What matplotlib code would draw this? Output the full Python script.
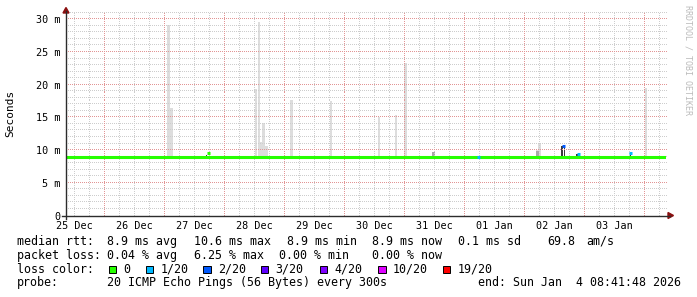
import numpy as np
import matplotlib.pyplot as plt
from matplotlib.lines import Line2D
from matplotlib.patches import Polygon, Rectangle

# time axis in days since 25 Dec 2025 00:00
t_start = 8.697 / 24          # 25 Dec 08:41:48
t_end = 10 + t_start          # 04 Jan 08:41:48
day_labels = ["25 Dec", "26 Dec", "27 Dec", "28 Dec", "29 Dec",
              "30 Dec", "31 Dec", "01 Jan", "02 Jan", "03 Jan"]
median_base = 8.9             # ms

# light smoke (ping spread) spikes: time, top in ms
smoke_t = [2.07, 2.117, 3.53, 3.575, 3.617, 3.658, 3.70, 4.117, 4.78,
           5.58, 5.86, 6.02, 8.215, 8.25, 10.025]
smoke_top = [29.1, 16.4, 19.3, 29.6, 11.3, 14.1, 10.6, 17.7, 17.5,
             15.1, 15.4, 23.3, 10.0, 10.9, 19.5]

# medium smoke
mid_t = [6.49, 8.22]
mid_top = [9.7, 9.9]

# dark smoke
dark_t = [2.708, 8.633, 8.667, 8.883, 9.77]
dark_top = [9.3, 10.6, 10.6, 9.35, 9.55]

# median excursions: time, median ms, loss index
med_t = [2.745, 7.24, 8.65, 8.90, 9.775]
med_val = [9.5, 8.9, 10.6, 9.35, 9.55]
med_loss = [0, 1, 2, 1, 1]

loss_labels = ["0", "1/20", "2/20", "3/20", "4/20", "10/20", "19/20"]
loss_colors = ["#26ff00", "#00b8ff", "#0059ff", "#5e00ff", "#7e00ff", "#dd00ff", "#ff0000"]

y_ticks = [0, 5, 10, 15, 20, 25, 30]
y_labels = ["0", "5 m", "10 m", "15 m", "20 m", "25 m", "30 m"]

W, H = 697, 297
mono = "DejaVu Sans Mono"


def fx(x):
    return x / W


def fy(y):
    return 1 - y / H


fig = plt.figure(figsize=(W / 100, H / 100), dpi=100)
ax = fig.add_axes([fx(66), fy(215.5), 600 / W, 202.7 / H])
ax.set_xlim(t_start, t_end)
ax.set_ylim(0, 31)
for s in ax.spines.values():
    s.set_visible(False)

minor_c = "#cdcdcd"
major_c = "#e29595"

# dotted grid, one pixel on / one off, drawn over the smoke
dx = 2 * (t_end - t_start) / 600
dy = 2 * 31 / 202.7
xs_dots = np.arange(t_start, t_end + dx, dx)
ys_dots = np.arange(0, 31, dy)
h_minor = [k for k in range(1, 32) if k % 5]
h_major = list(range(5, 31, 5))
v_all = [q / 4 for q in range(int(t_start * 4) + 1, int(t_end * 4) + 1)]
v_minor = [v for v in v_all if v % 1]
v_major = [v for v in v_all if v % 1 == 0]
for lines, col, z in [(h_minor, minor_c, 2.6), (h_major, major_c, 2.7)]:
    gx = np.tile(xs_dots, len(lines))
    gy = np.repeat(lines, len(xs_dots))
    ax.plot(gx, gy, ",", color=col, zorder=z, clip_on=False)
for lines, col, z in [(v_minor, minor_c, 2.6), (v_major, major_c, 2.7)]:
    gx = np.repeat(lines, len(ys_dots))
    gy = np.tile(ys_dots, len(lines))
    ax.plot(gx, gy, ",", color=col, zorder=z, clip_on=False)

w = 1 / 24
ax.bar(smoke_t, [t - median_base for t in smoke_top], bottom=median_base,
       width=w, color="#dddddd", linewidth=0, zorder=2)
ax.bar(mid_t, [t - median_base for t in mid_top], bottom=median_base,
       width=w, color="#a8a8a8", linewidth=0, zorder=2.2)
ax.bar(dark_t, [t - median_base for t in dark_top], bottom=median_base,
       width=w * 0.6, color="#3a3a3a", linewidth=0, zorder=2.5)

# median line
ax.plot([t_start, t_end], [median_base, median_base], color=loss_colors[0],
        lw=2.2, solid_capstyle="butt", zorder=3)
for t, v, l in zip(med_t, med_val, med_loss):
    ax.plot([t - w * 0.6, t + w * 0.6], [v, v], color=loss_colors[l],
            lw=2.2, solid_capstyle="butt", zorder=4)

ax.set_yticks(y_ticks)
ax.set_yticklabels(y_labels, fontsize=7.3, family=mono)
ax.set_xticks([d + 0.5 for d in range(10)])
ax.set_xticklabels(day_labels, fontsize=7.3, family=mono)
ax.tick_params(axis="y", length=0, pad=3.8)
ax.tick_params(axis="x", length=0, pad=4.2)

# axes and arrows
axis_c = "#2c2c2c"
fig.add_artist(Line2D([fx(62), fx(670)], [fy(215.5), fy(215.5)], color=axis_c, lw=1))
fig.add_artist(Line2D([fx(66), fx(66)], [fy(219), fy(11)], color=axis_c, lw=1))
arrow_c = "#8b1010"
fig.add_artist(Polygon([(fx(668), fy(212.5)), (fx(673.5), fy(215.5)), (fx(668), fy(218.5))],
                       closed=True, color=arrow_c, transform=fig.transFigure))
fig.add_artist(Polygon([(fx(63), fy(13)), (fx(66), fy(7.5)), (fx(69), fy(13))],
                       closed=True, color=arrow_c, transform=fig.transFigure))

fig.text(fx(10), fy(113), "Seconds", rotation=90, ha="center", va="center",
         fontsize=8, family=mono)
fig.text(fx(688), fy(5), "RRDTOOL / TOBI OETIKER", rotation=270, ha="center", va="top",
         fontsize=6, family=mono, color="#bbbbbb")

fs = 8.4
row1 = [("median rtt:", 16.7), ("8.9 ms avg", 107.3), ("10.6 ms max", 194),
        ("8.9 ms min", 286.7), ("8.9 ms now", 372), ("0.1 ms sd", 458.3),
        ("69.8", 547.3), ("am/s", 586.7)]
row2 = [("packet loss:", 16.7), ("0.04 % avg", 107.3), ("6.25 % max", 194),
        ("0.00 % min", 279.3), ("0.00 % now", 372)]
row4 = [("probe:", 16.7), ("20 ICMP Echo Pings (56 Bytes) every 300s", 107.3),
        ("end: Sun Jan  4 08:41:48 2026", 478.3)]
for row, y in [(row1, 245), (row2, 259), (row4, 286)]:
    for txt, x in row:
        fig.text(fx(x), fy(y), txt, fontsize=fs, family=mono, va="baseline")

fig.text(fx(16.7), fy(272.7), "loss color:", fontsize=fs, family=mono, va="baseline")
box_x = [108.7, 146, 203.3, 261, 320, 378.3, 442.7]
for lab, col, bx in zip(loss_labels, loss_colors, box_x):
    fig.add_artist(Rectangle((fx(bx), fy(273.3)), 7.3 / W, 7.6 / H, facecolor=col,
                             edgecolor="black", lw=0.7, transform=fig.transFigure))
    fig.text(fx(bx + 14.5), fy(272.7), lab, fontsize=fs, family=mono, va="baseline")

fig.savefig("out.png", dpi=100)
